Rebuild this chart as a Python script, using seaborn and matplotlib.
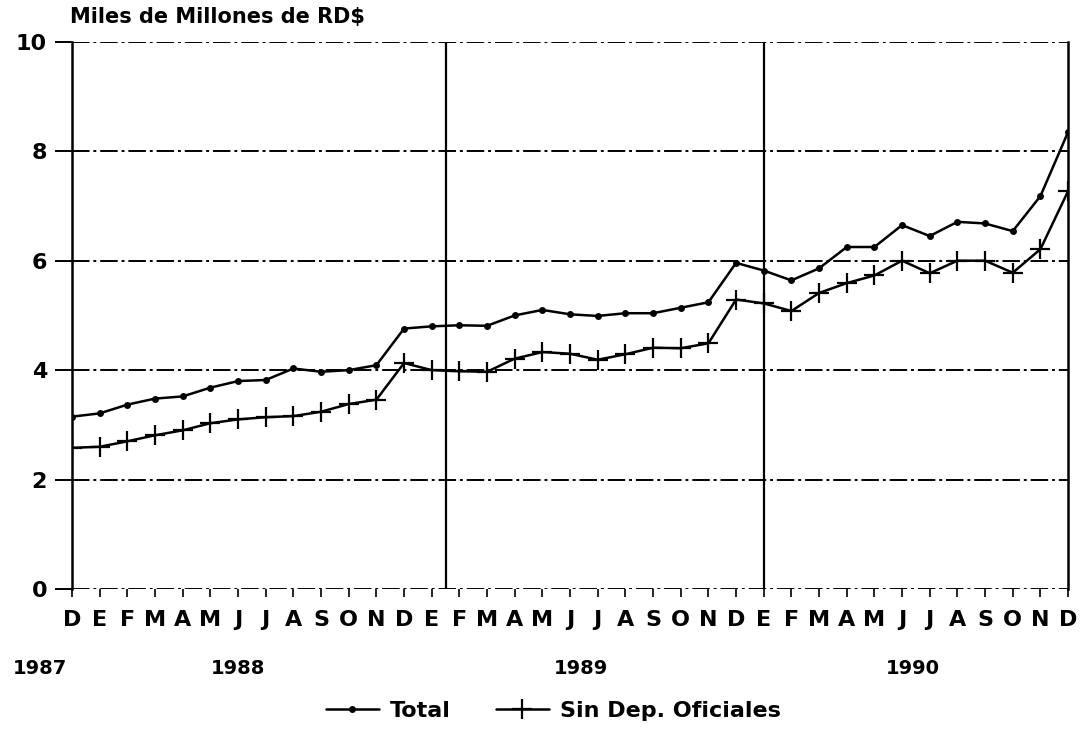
import matplotlib
matplotlib.use("Agg")
import matplotlib.pyplot as plt
from matplotlib.lines import Line2D
import numpy as np
import pandas as pd
import seaborn as sns

# Monthly values, Dec 1987 - Dec 1990 (miles de millones de RD$)
months = list("D") + list("EFMAMJJASOND") * 3
total = [3.15, 3.21, 3.37, 3.48, 3.52, 3.68, 3.80, 3.82, 4.03, 3.97, 4.00, 4.09,
         4.76, 4.80, 4.82, 4.81, 5.00, 5.10, 5.02, 4.99, 5.04, 5.04, 5.14, 5.24,
         5.96, 5.82, 5.64, 5.86, 6.25, 6.25, 6.65, 6.45, 6.71, 6.68, 6.54, 7.18, 8.35]
sin_dep = [2.58, 2.60, 2.70, 2.81, 2.90, 3.03, 3.10, 3.14, 3.16, 3.24, 3.38, 3.46,
           4.13, 4.00, 3.98, 3.97, 4.21, 4.33, 4.30, 4.19, 4.29, 4.41, 4.40, 4.49,
           5.29, 5.22, 5.08, 5.41, 5.59, 5.73, 6.00, 5.77, 6.00, 6.00, 5.78, 6.21, 7.27]
years = ["1987", "1988", "1989", "1990"]
year_pos = [-1.15, 6.0, 18.4, 30.4]
year_breaks = [13.5, 25.0]
yticks = [0, 2, 4, 6, 8, 10]

df = pd.DataFrame({"i": np.arange(len(months)), "Total": total,
                   "Sin Dep. Oficiales": sin_dep})

sns.set_style("white")
plt.rcParams['font.family'] = ['DejaVu Sans']
plt.rcParams['font.weight'] = 'bold'
plt.rcParams['text.color'] = 'black'
plt.rcParams['xtick.color'] = 'black'
plt.rcParams['ytick.color'] = 'black'

fig = plt.figure(figsize=(10.85, 7.33), dpi=100)
ax = fig.add_axes([0.0664, 0.1964, 0.918, 0.7466])

for y in yticks:
    ax.axhline(y, color='black', lw=1.4, ls='-.', dashes=(9, 2, 1.5, 2), zorder=1)
for xb in year_breaks:
    ax.axvline(xb, color='black', lw=1.6, zorder=1)

sns.lineplot(data=df, x="i", y="Total", ax=ax, color='black', lw=1.8,
             marker='o', markersize=5, markeredgewidth=0, zorder=3)
sns.lineplot(data=df, x="i", y="Sin Dep. Oficiales", ax=ax, color='black', lw=1.8,
             marker='+', markersize=15, markeredgewidth=1.6,
             markeredgecolor='black', zorder=3)

ax.set_xlim(0, len(months) - 1)
ax.set_ylim(0, 10)
ax.set_xlabel("")
ax.set_ylabel("")
ax.set_xticks(np.arange(len(months)))
ax.set_xticklabels(months, fontsize=16, fontweight='bold')
ax.set_yticks(yticks)
ax.set_yticklabels([str(v) for v in yticks], fontsize=16, fontweight='bold')
ax.tick_params(axis='y', direction='out', length=12, width=1.4, pad=6, left=True)
ax.tick_params(axis='x', direction='out', length=6, width=1.2, pad=9, bottom=True)

for side in ['top', 'bottom']:
    ax.spines[side].set_visible(False)
for side in ['left', 'right']:
    ax.spines[side].set_color('black')
    ax.spines[side].set_linewidth(1.8)

for lab, xp in zip(years, year_pos):
    ax.text(xp, -0.145, lab, transform=ax.get_xaxis_transform(), ha='center',
            va='center', fontsize=14, fontweight='bold')

fig.text(0.0645, 0.963, "Miles de Millones de RD$", fontsize=15, fontweight='bold',
         ha='left', va='bottom')

handles = [Line2D([], [], color='black', lw=1.8, marker='o', markersize=5,
                  markeredgewidth=0),
           Line2D([], [], color='black', lw=1.8, marker='+', markersize=15,
                  markeredgewidth=1.6)]
fig.legend(handles, ["Total", "Sin Dep. Oficiales"], loc='center',
           bbox_to_anchor=(0.51, 0.03), ncol=2, frameon=False,
           prop={'size': 16, 'weight': 'bold'}, handlelength=2.4,
           columnspacing=2.0, handletextpad=0.5)

fig.savefig("out.png", dpi=100)
